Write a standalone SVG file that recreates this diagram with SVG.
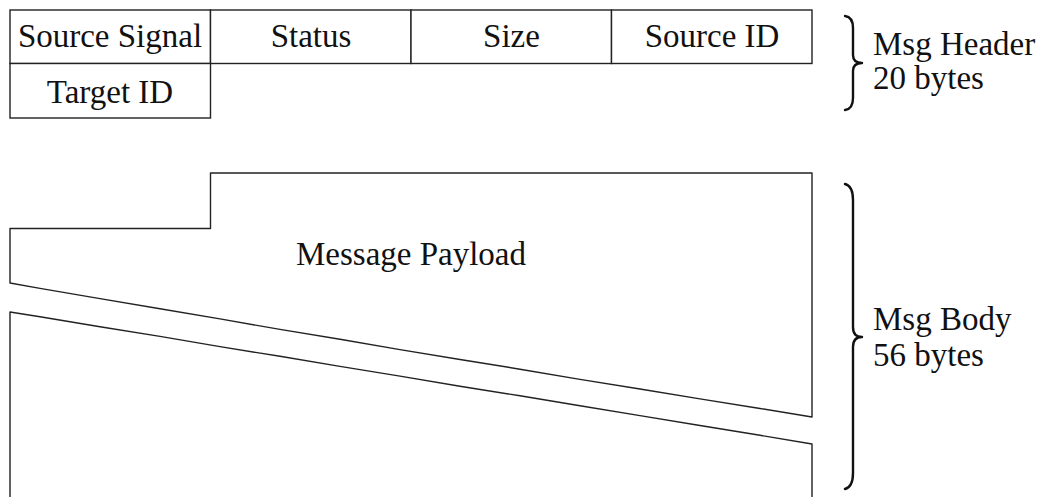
<svg xmlns="http://www.w3.org/2000/svg" width="1041" height="497" viewBox="0 0 1041 497">
  <style>
    .cell { fill: #ffffff; stroke: #222222; stroke-width: 1.4; }
    .edge { fill: none; stroke: #222222; stroke-width: 1.4; stroke-linejoin: round; }
    .brace { fill: none; stroke: #111111; stroke-width: 2.4; stroke-linecap: round; stroke-linejoin: round; }
    text { font-family: "Liberation Serif", "Times New Roman", serif; font-size: 33px; fill: #111111; }
    .c { text-anchor: middle; }
  </style>

  <rect width="1041" height="497" fill="#ffffff"/>

  <!-- Header fields -->
  <g id="source-signal">
    <rect class="cell" x="10" y="10" width="200.5" height="53.5"/>
    <text class="c" x="110" y="47">Source Signal</text>
  </g>
  <g id="status">
    <rect class="cell" x="210.5" y="10" width="200.5" height="53.5"/>
    <text class="c" x="311" y="47">Status</text>
  </g>
  <g id="size">
    <rect class="cell" x="411" y="10" width="200.5" height="53.5"/>
    <text class="c" x="511.5" y="47">Size</text>
  </g>
  <g id="source-id">
    <rect class="cell" x="611.5" y="10" width="200.5" height="53.5"/>
    <text class="c" x="712" y="47">Source ID</text>
  </g>
  <g id="target-id">
    <rect class="cell" x="10" y="63.5" width="200.5" height="54.5"/>
    <text class="c" x="110" y="103">Target ID</text>
  </g>

  <!-- Payload, drawn with a torn break -->
  <g id="payload">
    <path class="edge" d="M 10 283 L 10 228.5 L 210.5 228.5 L 210.5 173 L 812 173 L 812 417
      L 760 408.5 L 700 398.9 L 640 389 L 580 379.4 L 520 369.2 L 460 359.5 L 400 349.6 L 340 339.3 L 280 329.4 L 220 318.9 L 160 308.8 L 100 298.6 L 40 288.4 Z"/>
    <path class="edge" d="M 10 497 L 10 312 L 40 316.7 L 100 326.8 L 160 336.4 L 220 346.6 L 280 356.3 L 340 366.4 L 400 376.1 L 460 386.2 L 520 395.8 L 580 405.8 L 640 415.6 L 700 425.5 L 760 435.3 L 812 444 L 812 497"/>
    <text class="c" x="411" y="265">Message Payload</text>
  </g>

  <!-- Size annotations -->
  <g id="header-brace">
    <path class="brace" d="M 845 16 Q 853 17 853 28 L 853 55 Q 853 63 862 63 Q 853 63 853 71 L 853 98 Q 853 109 845 110"/>
    <text x="873" y="55">Msg Header</text>
    <text x="873" y="89">20 bytes</text>
  </g>
  <g id="body-brace">
    <path class="brace" d="M 845 184 Q 853 186 853 200 L 853 327 Q 853 337 862 337 Q 853 337 853 347 L 853 473 Q 853 487 845 489"/>
    <text x="873" y="330">Msg Body</text>
    <text x="873" y="366">56 bytes</text>
  </g>
</svg>
